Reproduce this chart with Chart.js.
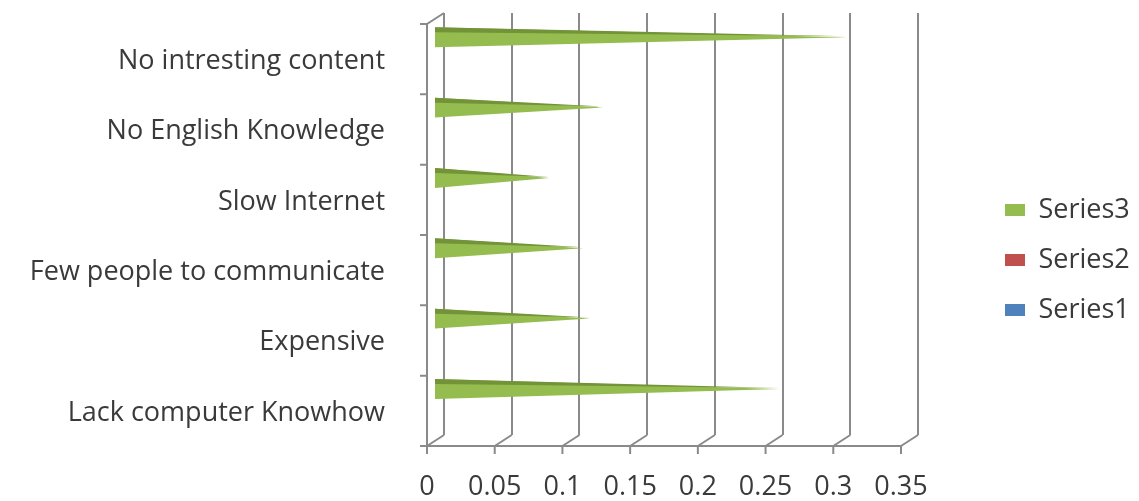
<!DOCTYPE html>
<html>
<head>
<meta charset="utf-8">
<script src="https://cdn.jsdelivr.net/npm/chart.js@4.4.1/dist/chart.umd.min.js"></script>
<style>
  html, body { margin: 0; padding: 0; background: #fff; }
</style>
</head>
<body>
<canvas id="chart" width="1139" height="501"></canvas>
<script>
// categories, top to bottom as in the picture
const categories = [
  "No intresting content",
  "No English Knowledge",
  "Slow Internet",
  "Few people to communicate",
  "Expensive",
  "Lack computer Knowhow",
];
const series3 = [0.305, 0.125, 0.085, 0.11, 0.115, 0.255];
const series2 = [0, 0, 0, 0, 0, 0];
const series1 = [0, 0, 0, 0, 0, 0];
const xTickLabels = ["0", "0.05", "0.1", "0.15", "0.2", "0.25", "0.3", "0.35"];

const textColor = "#3a3a3a";
const lineColor = "#8a8a8a";
const fontFamily = "'Open Sans', sans-serif";

// depth of the fake 3d floor: front edge relative to the back wall
const depthX = -17;
const depthY = 11;

// draws every bar as a flat cone lying in the middle of the floor depth
const conePlugin = {
  id: "cones",
  beforeDatasetDraw() {
    return false; // skip the normal rectangles
  },
  afterDatasetsDraw(chart) {
    const ctx = chart.ctx;
    chart.data.datasets.forEach((ds, i) => {
      const meta = chart.getDatasetMeta(i);
      meta.data.forEach((bar) => {
        const { x, y, base, height } = bar.getProps(["x", "y", "base", "height"], true);
        if (x - base < 1) return;
        const x0 = base - 10;
        const x1 = x - 10;
        const cy = y + 6;
        const h = height / 2;
        ctx.save();
        ctx.fillStyle = ds.backgroundColor;
        ctx.beginPath();
        ctx.moveTo(x0, cy - h);
        ctx.lineTo(x1, cy);
        ctx.lineTo(x0, cy + h);
        ctx.closePath();
        ctx.fill();
        // darker top face
        ctx.fillStyle = ds.topColor;
        ctx.beginPath();
        ctx.moveTo(x0, cy - h);
        ctx.lineTo(x1, cy - 1);
        ctx.lineTo(x0, cy - h + 5);
        ctx.closePath();
        ctx.fill();
        ctx.restore();
      });
    });
  },
};

// floor and left wall lines of the 3d frame
const framePlugin = {
  id: "frame",
  beforeDatasetsDraw(chart) {
    const ctx = chart.ctx;
    const xs = chart.scales.x;
    const { left, top, bottom } = chart.chartArea;
    ctx.save();
    ctx.strokeStyle = lineColor;
    ctx.lineWidth = 2;
    ctx.beginPath();
    xs.ticks.forEach((t) => {
      const bx = xs.getPixelForValue(t.value);
      ctx.moveTo(bx, bottom);
      ctx.lineTo(bx + depthX, bottom + depthY);
      ctx.moveTo(bx + depthX, bottom + depthY);
      ctx.lineTo(bx + depthX, bottom + depthY + 8);
    });
    // front edge of the floor
    ctx.moveTo(xs.getPixelForValue(xs.min) + depthX, bottom + depthY);
    ctx.lineTo(xs.getPixelForValue(xs.max) + depthX, bottom + depthY);
    // left wall
    ctx.moveTo(left, top);
    ctx.lineTo(left + depthX, top + depthY);
    ctx.lineTo(left + depthX, bottom + depthY);
    const band = (bottom - top) / categories.length;
    for (let i = 0; i <= categories.length; i++) {
      const yy = top + i * band + depthY;
      ctx.moveTo(left + depthX - 7, yy);
      ctx.lineTo(left + depthX, yy);
    }
    ctx.stroke();
    ctx.restore();
  },
};

// keep the legend off to the right, leaving a gap after the plot
const legendGapPlugin = {
  id: "legendGap",
  beforeInit(chart) {
    const fit = chart.legend.fit;
    chart.legend.fit = function () {
      fit.call(this);
      this.width = 221;
    };
  },
  afterLayout(chart) {
    chart.legend.left += 64;
    chart.legend.right += 64;
    chart.legend.top += 3;
    chart.legend.bottom += 3;
  },
};

new Chart(document.getElementById("chart"), {
  type: "bar",
  data: {
    labels: categories,
    datasets: [
      { label: "Series3", data: series3, backgroundColor: "#94bc4e", topColor: "#739339" },
      { label: "Series2", data: series2, backgroundColor: "#c0504d", topColor: "#8f3a38" },
      { label: "Series1", data: series1, backgroundColor: "#4f81bd", topColor: "#3a6190" },
    ],
  },
  options: {
    indexAxis: "y",
    responsive: false,
    animation: false,
    layout: { padding: { top: 13, left: 13, right: 0, bottom: 0 } },
    datasets: {
      bar: { categoryPercentage: 0.72, barPercentage: 1.18 },
    },
    scales: {
      x: {
        min: 0,
        max: 0.35,
        z: 1,
        afterFit(scale) {
          scale.height = 66;
        },
        ticks: {
          stepSize: 0.05,
          padding: 36,
          labelOffset: depthX,
          color: textColor,
          font: { family: fontFamily, size: 27 },
          callback: (v, i) => xTickLabels[i],
        },
        grid: { color: lineColor, lineWidth: 2, drawTicks: false },
        border: { display: false },
      },
      y: {
        afterFit(scale) {
          scale.width = 431;
          scale.paddingTop = 0;
          scale.paddingBottom = 0;
        },
        ticks: {
          padding: 51,
          labelOffset: 13,
          color: textColor,
          font: { family: fontFamily, size: 27 },
        },
        grid: { display: false },
        border: { display: false },
      },
    },
    plugins: {
      tooltip: { enabled: false },
      legend: {
        position: "right",
        labels: {
          boxWidth: 20,
          boxHeight: 12,
          padding: 23,
          color: textColor,
          font: { family: fontFamily, size: 27 },
        },
      },
    },
  },
  plugins: [conePlugin, framePlugin, legendGapPlugin],
});
</script>
</body>
</html>
